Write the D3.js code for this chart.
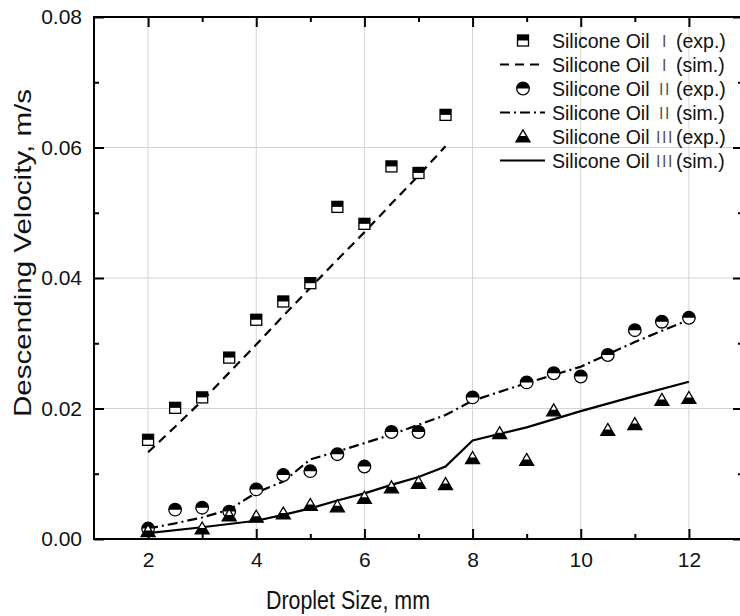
<!DOCTYPE html>
<html>
<head>
<meta charset="utf-8">
<title>Descending velocity vs droplet size</title>
<script src="https://cdnjs.cloudflare.com/ajax/libs/d3/7.8.5/d3.min.js"></script>
<style>
  body { margin: 0; background: #fff; }
  svg { display: block; font-family: "Liberation Sans", Arial, sans-serif; }
  .tick text { font-size: 21px; fill: #111; }
  .numeral { -webkit-font-smoothing: antialiased; }
</style>
</head>
<body>
<svg id="chart" width="740" height="616"></svg>
<script>
// ---- data ----
var xTicks = [2, 4, 6, 8, 10, 12];
var xMinor = [3, 5, 7, 9, 11];
var yTicks = [0, 0.02, 0.04, 0.06, 0.08];
var yMinor = [0.01, 0.03, 0.05, 0.07];

var oil1ExpX = [2, 2.5, 3, 3.5, 4, 4.5, 5, 5.5, 6, 6.5, 7, 7.5];
var oil1ExpY = [0.0152, 0.0201, 0.0217, 0.0278, 0.0336, 0.0364, 0.0392, 0.0509, 0.0483, 0.0571, 0.0561, 0.0650];
var oil1SimX = [2, 2.5, 3, 3.5, 4, 4.5, 5, 5.5, 6, 6.5, 7, 7.5];
var oil1SimY = [0.0133, 0.0172, 0.0212, 0.0255, 0.0298, 0.0342, 0.0385, 0.0428, 0.0470, 0.0514, 0.0557, 0.0602];

var oil2ExpX = [2, 2.5, 3, 3.5, 4, 4.5, 5, 5.5, 6, 6.5, 7, 8, 9, 9.5, 10, 10.5, 11, 11.5, 12];
var oil2ExpY = [0.0016, 0.0045, 0.0048, 0.0042, 0.0076, 0.0098, 0.0104, 0.0130, 0.0111, 0.0164, 0.0164,
                0.0217, 0.0240, 0.0254, 0.0249, 0.0282, 0.0320, 0.0333, 0.0339];
var oil2SimX = [2, 2.5, 3, 3.5, 4, 4.5, 5, 5.5, 6, 6.5, 7, 7.5, 8, 9, 10, 11, 12];
var oil2SimY = [0.0016, 0.0024, 0.0033, 0.0045, 0.0071, 0.0088, 0.0122, 0.0134, 0.0147, 0.0160, 0.0175,
                0.0190, 0.0212, 0.0239, 0.0264, 0.0302, 0.0336];

var oil3ExpX = [2, 3, 3.5, 4, 4.5, 5, 5.5, 6, 6.5, 7, 7.5, 8, 8.5, 9, 9.5, 10.5, 11, 11.5, 12];
var oil3ExpY = [0.0012, 0.0016, 0.0036, 0.0034, 0.0039, 0.0052, 0.0050, 0.0063, 0.0079, 0.0086, 0.0084,
                0.0124, 0.0162, 0.0121, 0.0197, 0.0167, 0.0176, 0.0213, 0.0216];
var oil3SimX = [2, 3, 4, 4.5, 5, 5.5, 6, 6.5, 7, 7.5, 8, 9, 10, 11, 12];
var oil3SimY = [0.0009, 0.0018, 0.0028, 0.0037, 0.0047, 0.0059, 0.0070, 0.0083, 0.0095, 0.0111, 0.0151,
                0.0171, 0.0196, 0.0219, 0.0241];

var legendNames = ["Silicone Oil", "Silicone Oil", "Silicone Oil", "Silicone Oil", "Silicone Oil", "Silicone Oil"];
var legendNumerals = ["I", "I", "II", "II", "III", "III"];
var legendKinds = ["(exp.)", "(sim.)", "(exp.)", "(sim.)", "(exp.)", "(sim.)"];

// ---- layout ----
var svg = d3.select('#chart');
var plotL = 94, plotR = 743, plotT = 17, plotB = 539;

var x = d3.scaleLinear().domain([1, 13]).range([plotL, plotR]);
var y = d3.scaleLinear().domain([0, 0.08]).range([plotB, plotT]);

// grid
var grid = svg.append('g').attr('stroke', '#d4d4d4').attr('stroke-width', 1);
grid.selectAll('.gx').data(xTicks).enter().append('line')
  .attr('x1', function(d) { return x(d); }).attr('x2', function(d) { return x(d); })
  .attr('y1', plotT).attr('y2', plotB);
grid.selectAll('.gy').data(yTicks.slice(1, -1)).enter().append('line')
  .attr('y1', function(d) { return y(d); }).attr('y2', function(d) { return y(d); })
  .attr('x1', plotL).attr('x2', plotR);

// axes, ticks point inward
function axisStyle(g) {
  g.select('.domain').remove();
  g.selectAll('.tick line').attr('stroke', '#000').attr('stroke-width', 2);
}
svg.append('g').attr('transform', 'translate(0,' + plotB + ')')
  .call(d3.axisBottom(x).tickValues(xTicks).tickSize(-10).tickPadding(13).tickFormat(d3.format('d')))
  .call(axisStyle);
svg.append('g').attr('transform', 'translate(0,' + plotB + ')')
  .call(d3.axisBottom(x).tickValues(xMinor).tickSize(-5).tickFormat(''))
  .call(axisStyle);
svg.append('g').attr('transform', 'translate(0,' + plotT + ')')
  .call(d3.axisTop(x).tickValues(xTicks).tickSize(-10).tickFormat(''))
  .call(axisStyle);
svg.append('g').attr('transform', 'translate(0,' + plotT + ')')
  .call(d3.axisTop(x).tickValues(xMinor).tickSize(-5).tickFormat(''))
  .call(axisStyle);
svg.append('g').attr('transform', 'translate(' + plotL + ',0)')
  .call(d3.axisLeft(y).tickValues(yTicks).tickSize(-10).tickPadding(12).tickFormat(d3.format('.2f')))
  .call(axisStyle);
svg.append('g').attr('transform', 'translate(' + plotL + ',0)')
  .call(d3.axisLeft(y).tickValues(yMinor).tickSize(-5).tickFormat(''))
  .call(axisStyle);
svg.append('g').attr('transform', 'translate(' + plotR + ',0)')
  .call(d3.axisRight(y).tickValues(yTicks).tickSize(-10).tickFormat(''))
  .call(axisStyle);
svg.append('g').attr('transform', 'translate(' + plotR + ',0)')
  .call(d3.axisRight(y).tickValues(yMinor).tickSize(-5).tickFormat(''))
  .call(axisStyle);

// frame
svg.append('rect').attr('x', plotL).attr('y', plotT)
  .attr('width', plotR - plotL).attr('height', plotB - plotT)
  .attr('fill', 'none').attr('stroke', '#000').attr('stroke-width', 2);

// axis titles
svg.append('text').attr('x', (266 + 430) / 2).attr('y', 609)
  .attr('text-anchor', 'middle').attr('font-size', 25)
  .attr('textLength', 164).attr('lengthAdjust', 'spacingAndGlyphs')
  .attr('fill', '#111').text('Droplet Size, mm');
svg.append('text').attr('transform', 'translate(31,253) rotate(-90)')
  .attr('text-anchor', 'middle').attr('font-size', 24)
  .attr('textLength', 328).attr('lengthAdjust', 'spacingAndGlyphs')
  .attr('fill', '#111').text('Descending Velocity, m/s');

// lines
function zip(xs, ys) { return xs.map(function(v, i) { return [v, ys[i]]; }); }
var line = d3.line().x(function(d) { return x(d[0]); }).y(function(d) { return y(d[1]); });
var styles = {
  dash: '9,6',
  dashdot: '10,4,2,4',
  solid: null
};
function drawLine(pts, dash) {
  svg.append('path').datum(pts).attr('d', line)
    .attr('fill', 'none').attr('stroke', '#000').attr('stroke-width', 2.2)
    .attr('stroke-dasharray', dash);
}
drawLine(zip(oil1SimX, oil1SimY), styles.dash);
drawLine(zip(oil2SimX, oil2SimY), styles.dashdot);
drawLine(zip(oil3SimX, oil3SimY), styles.solid);

// markers
function square(g, cx, cy) {
  g.append('rect').attr('x', cx - 5.5).attr('y', cy - 5.5).attr('width', 11).attr('height', 11)
    .attr('fill', '#fff').attr('stroke', '#000').attr('stroke-width', 1.3);
  g.append('rect').attr('x', cx - 5.5).attr('y', cy - 5.5).attr('width', 11).attr('height', 5.5)
    .attr('fill', '#000');
}
function circle(g, cx, cy) {
  var r = 6.3;
  g.append('circle').attr('cx', cx).attr('cy', cy).attr('r', r)
    .attr('fill', '#fff').attr('stroke', '#000').attr('stroke-width', 1.3);
  g.append('path').attr('d', 'M' + (cx - r) + ',' + cy + ' A' + r + ',' + r + ' 0 0 1 ' + (cx + r) + ',' + cy + ' Z')
    .attr('fill', '#000');
}
function triangle(g, cx, cy) {
  var h = 12, w = 14, ty = cy - h * 0.55, by = cy + h * 0.45;
  g.append('path').attr('d', 'M' + cx + ',' + ty + ' L' + (cx + w / 2) + ',' + by + ' L' + (cx - w / 2) + ',' + by + ' Z')
    .attr('fill', '#fff').attr('stroke', '#000').attr('stroke-width', 1.3).attr('stroke-linejoin', 'miter');
  var my = cy + h * 0.45 - h / 2;
  g.append('path').attr('d', 'M' + (cx - w / 4) + ',' + my + ' L' + (cx + w / 4) + ',' + my + ' L' + (cx + w / 2) + ',' + by + ' L' + (cx - w / 2) + ',' + by + ' Z')
    .attr('fill', '#000');
}
var marks = svg.append('g');
zip(oil1ExpX, oil1ExpY).forEach(function(d) { square(marks, x(d[0]), y(d[1])); });
zip(oil2ExpX, oil2ExpY).forEach(function(d) { circle(marks, x(d[0]), y(d[1])); });
zip(oil3ExpX, oil3ExpY).forEach(function(d) { triangle(marks, x(d[0]), y(d[1])); });

// legend
var legend = svg.append('g');
var rowY = d3.range(6).map(function(i) { return 40.5 + i * 24; });
var dashes = [null, styles.dash, null, styles.dashdot, null, styles.solid];
legendKinds.forEach(function(k, i) {
  var cy = rowY[i];
  if (i === 0) square(legend, 523, cy);
  else if (i === 2) circle(legend, 523, cy);
  else if (i === 4) triangle(legend, 523, cy);
  else {
    legend.append('line').attr('x1', 500).attr('x2', 545).attr('y1', cy).attr('y2', cy)
      .attr('stroke', '#000').attr('stroke-width', 2.2).attr('stroke-dasharray', dashes[i]);
  }
  legend.append('text').attr('x', 552).attr('y', cy + 7).attr('font-size', 19.5)
    .attr('fill', '#111').text(legendNames[i]);
  legend.append('text').attr('class', 'numeral').attr('x', 665).attr('y', cy + 6).attr('font-size', 16)
    .attr('text-anchor', 'middle').attr('fill', '#555').attr('letter-spacing', 1.5)
    .text(legendNumerals[i]);
  legend.append('text').attr('x', 676).attr('y', cy + 7).attr('font-size', 19.5)
    .attr('fill', '#111').text(k);
});
</script>
</body>
</html>
